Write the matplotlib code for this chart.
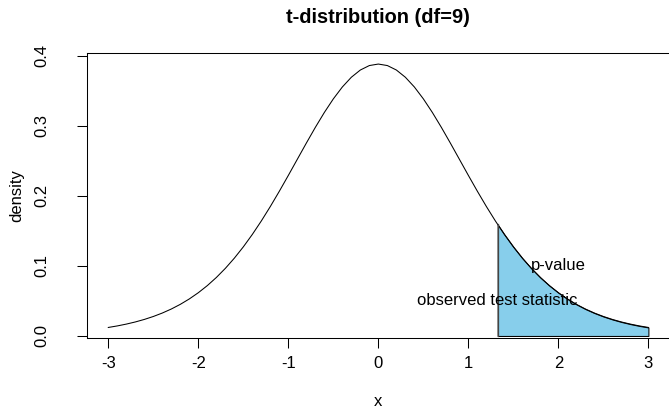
import matplotlib
matplotlib.use("Agg")
import matplotlib.pyplot as plt

# density of the t-distribution with 9 degrees of freedom, read at steps of 0.1
x_vals = [-3.0, -2.9, -2.8, -2.7, -2.6, -2.5, -2.4, -2.3, -2.2, -2.1,
          -2.0, -1.9, -1.8, -1.7, -1.6, -1.5, -1.4, -1.3, -1.2, -1.1,
          -1.0, -0.9, -0.8, -0.7, -0.6, -0.5, -0.4, -0.3, -0.2, -0.1,
          0.0, 0.1, 0.2, 0.3, 0.4, 0.5, 0.6, 0.7, 0.8, 0.9,
          1.0, 1.1, 1.2, 1.3, 1.4, 1.5, 1.6, 1.7, 1.8, 1.9,
          2.0, 2.1, 2.2, 2.3, 2.4, 2.5, 2.6, 2.7, 2.8, 2.9, 3.0]
density = [0.01213, 0.01432, 0.01692, 0.01997, 0.02357, 0.02778, 0.03271, 0.03845, 0.04512, 0.05284,
           0.06171, 0.07186, 0.08340, 0.09642, 0.11099, 0.12715, 0.14489, 0.16413, 0.18475, 0.20652,
           0.22913, 0.25219, 0.27523, 0.29768, 0.31893, 0.33835, 0.35531, 0.36920, 0.37952, 0.38588,
           0.38803, 0.38588, 0.37952, 0.36920, 0.35531, 0.33835, 0.31893, 0.29768, 0.27523, 0.25219,
           0.22913, 0.20652, 0.18475, 0.16413, 0.14489, 0.12715, 0.11099, 0.09642, 0.08340, 0.07186,
           0.06171, 0.05284, 0.04512, 0.03845, 0.03271, 0.02778, 0.02357, 0.01997, 0.01692, 0.01432, 0.01213]

# observed test statistic and its density
obs_stat = 1.325
obs_density = 0.15918

x_ticks = [-3, -2, -1, 0, 1, 2, 3]
y_ticks = [0.0, 0.1, 0.2, 0.3, 0.4]
y_ticklabels = ["0.0", "0.1", "0.2", "0.3", "0.4"]

plt.rcParams["font.family"] = ["Liberation Sans", "DejaVu Sans"]
plt.rcParams["font.size"] = 12
plt.rcParams["axes.unicode_minus"] = False

fig = plt.figure(figsize=(6.69, 4.08), dpi=100)
ax = fig.add_axes([0.1296, 0.1716, 0.8719, 0.6973])

ax.plot(x_vals, density, color="black", linewidth=0.75)

# shaded right tail (p-value area)
tail_x = [obs_stat] + [x for x in x_vals if x > obs_stat]
tail_y = [obs_density] + [d for x, d in zip(x_vals, density) if x > obs_stat]
ax.fill_between(tail_x, 0, tail_y, facecolor="skyblue", edgecolor="black", linewidth=0.75)
ax.plot([tail_x[0], tail_x[0]], [0, tail_y[0]], color="#444444", linewidth=0.9)

ax.text(2, 0.1, "p-value", ha="center", va="center", fontsize=12)
ax.text(obs_stat, 0.05, "observed test statistic", ha="center", va="center", fontsize=12)

ax.set_xlim(-3.24, 3.24)
ax.set_ylim(-0.0029, 0.4031)
ax.set_xticks(x_ticks)
ax.set_xticklabels([str(t) for t in x_ticks])
ax.set_yticks(y_ticks)
ax.set_yticklabels(y_ticklabels, rotation=90, va="center")
ax.tick_params(axis="both", direction="out", length=7, width=0.75, labelsize=12)
ax.tick_params(axis="x", pad=6)
ax.tick_params(axis="y", pad=20)
for s in ax.spines.values():
    s.set_linewidth(0.75)

ax.set_xlabel("x", fontsize=12)
ax.xaxis.set_label_coords(0.5, -0.224)
ax.xaxis.label.set_verticalalignment("center")
ax.set_ylabel("density", fontsize=12)
ax.yaxis.set_label_coords(-0.1195, 0.5)
ax.yaxis.label.set_verticalalignment("center")

ax.set_title("t-distribution (df=9)", fontsize=14.4, fontweight="bold", y=1.128, pad=0, va="center")

fig.savefig("out.png", dpi=100)
